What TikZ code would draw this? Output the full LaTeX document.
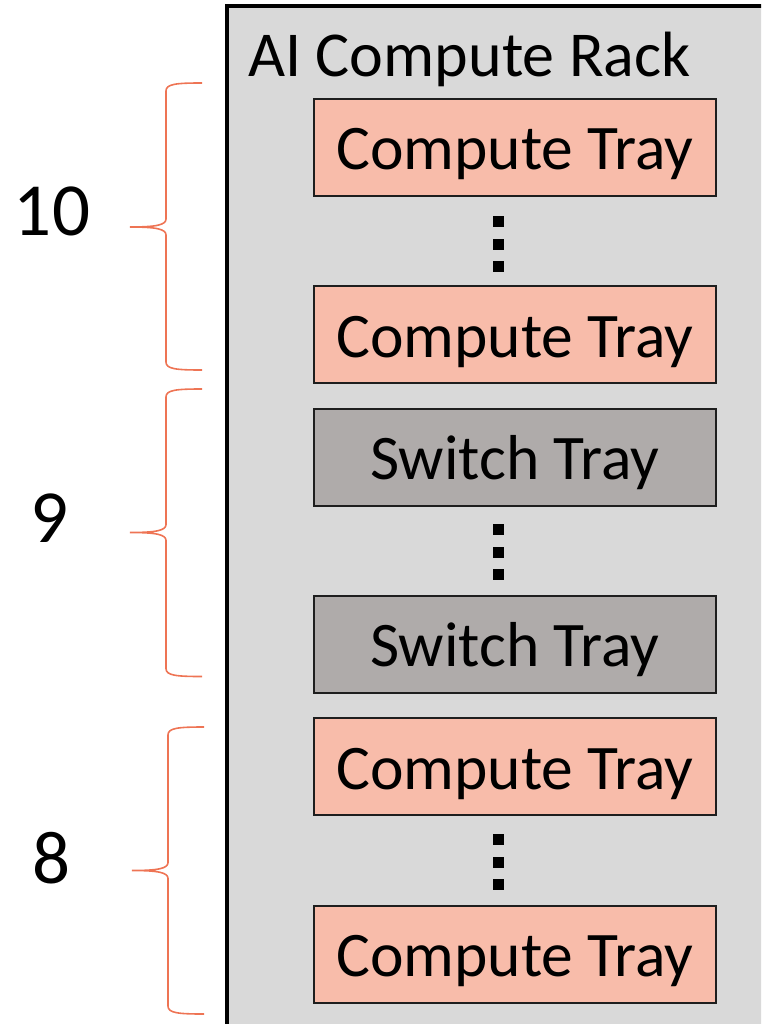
\documentclass[tikz,border=0pt]{standalone}
\usepackage{fontspec}
\setmainfont{Carlito}
\definecolor{rackfill}{RGB}{217,217,217}
\definecolor{computefill}{RGB}{248,188,170}
\definecolor{switchfill}{RGB}{175,171,170}
\definecolor{braceline}{RGB}{238,116,84}
\definecolor{trayedge}{RGB}{30,30,30}
\tikzset{
  tray/.style={draw=trayedge, line width=2pt, minimum width=402pt, minimum height=97pt,
    inner sep=0pt, text height=47pt, text depth=2pt,
    font=\fontsize{63.5}{70}\selectfont},
  computetray/.style={tray, fill=computefill},
  switchtray/.style={tray, fill=switchfill},
  dotsq/.style={fill=black, minimum size=11pt, inner sep=0pt},
  countlabel/.style={inner sep=0pt, font=\fontsize{75}{80}\selectfont},
  bracepath/.style={draw=braceline, line width=1.6pt}
}
\begin{document}
\begin{tikzpicture}[x=1pt, y=-1pt]
\useasboundingbox (0,0) rectangle (761,1024);
\clip (0,0) rectangle (761,1024);

% rack enclosure (continues past the right and bottom edges)
\draw[fill=rackfill, line width=4pt] (227,6) rectangle (790,1050);
\node[anchor=base west, inner sep=0pt, font=\fontsize{64}{70}\selectfont] (title) at (248,77) {AI Compute Rack};

% trays
\node[computetray] (ct1) at (515,147.5) {Compute Tray};
\node[computetray] (ct2) at (515,334.5) {Compute Tray};
\node[switchtray]  (st1) at (515,457)   {Switch Tray};
\node[switchtray]  (st2) at (515,644)   {Switch Tray};
\node[computetray] (ct3) at (515,766.5) {Compute Tray};
\node[computetray] (ct4) at (515,954)   {Compute Tray};

% vertical ellipses between trays
\foreach \g/\cy in {a/244, b/552, c/862}{
  \node[dotsq] (dot\g1) at (498,\cy-22.5) {};
  \node[dotsq] (dot\g2) at (498,\cy) {};
  \node[dotsq] (dot\g3) at (498,\cy+22.5) {};
}

% group counts
\node[countlabel] (n10) at (52,211) {10};
\node[countlabel] (n9)  at (50,518) {9};
\node[countlabel] (n8)  at (52,858) {8};

% curly braces: top end, tip, bottom end
\foreach \nm/\xt/\xv/\xe/\yt/\ym/\yb in {ba/130/166/202/83/227/370, bb/130/166/202/389/532.5/676.5, bc/132/168/204/727/870.5/1014}{
  \coordinate (\nm top) at (\xe,\yt);
  \coordinate (\nm tip) at (\xt,\ym);
  \coordinate (\nm bot) at (\xe,\yb);
  \draw[bracepath] (\nm top) .. controls (\xv+10,\yt) and (\xv,\yt+1) .. (\xv,\yt+8)
    -- (\xv,\ym-8) .. controls (\xv,\ym-2) and (\xv-10,\ym) .. (\nm tip)
    .. controls (\xv-10,\ym) and (\xv,\ym+2) .. (\xv,\ym+8)
    -- (\xv,\yb-8) .. controls (\xv,\yb-1) and (\xv+10,\yb) .. (\nm bot);
}
\end{tikzpicture}
\end{document}
